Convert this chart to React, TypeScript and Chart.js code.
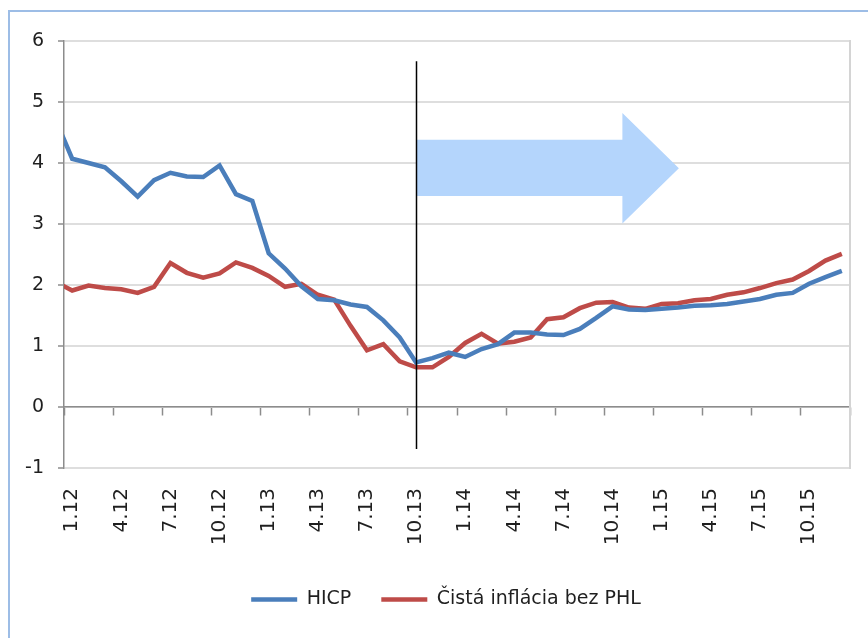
import React, { useEffect, useRef } from 'react';
import { Chart, registerables } from 'chart.js';

Chart.register(...registerables);

// Months (m.yy). The first month lies just left of the visible axis (line enters from the edge).
const MONTHS = [
  '12.11',
  '1.12', '2.12', '3.12', '4.12', '5.12', '6.12', '7.12', '8.12', '9.12', '10.12', '11.12', '12.12',
  '1.13', '2.13', '3.13', '4.13', '5.13', '6.13', '7.13', '8.13', '9.13', '10.13', '11.13', '12.13',
  '1.14', '2.14', '3.14', '4.14', '5.14', '6.14', '7.14', '8.14', '9.14', '10.14', '11.14', '12.14',
  '1.15', '2.15', '3.15', '4.15', '5.15', '6.15', '7.15', '8.15', '9.15', '10.15', '11.15', '12.15',
];
const FIRST_VISIBLE = '1.12';

const HICP = [
  4.7,
  4.07, 4.0, 3.93, 3.7, 3.45, 3.72, 3.84, 3.78, 3.77, 3.96, 3.49, 3.38,
  2.52, 2.27, 1.98, 1.77, 1.75, 1.68, 1.64, 1.42, 1.14, 0.73, 0.8, 0.89,
  0.82, 0.95, 1.03, 1.22, 1.22, 1.19, 1.18, 1.28, 1.46, 1.65, 1.6, 1.59,
  1.61, 1.63, 1.66, 1.67, 1.69, 1.73, 1.77, 1.84, 1.87, 2.02, 2.13, 2.23,
];
const CORE = [
  2.05,
  1.91, 1.99, 1.95, 1.93, 1.87, 1.97, 2.36, 2.2, 2.12, 2.19, 2.37, 2.28,
  2.15, 1.97, 2.02, 1.84, 1.76, 1.33, 0.93, 1.03, 0.75, 0.65, 0.65, 0.82,
  1.05, 1.2, 1.04, 1.07, 1.14, 1.44, 1.47, 1.62, 1.71, 1.72, 1.63, 1.61,
  1.69, 1.7, 1.75, 1.77, 1.84, 1.88, 1.95, 2.03, 2.09, 2.23, 2.4, 2.51,
];
const SERIES_NAMES = ['HICP', 'Čistá inflácia bez PHL'];

const Y_MIN = -1;
const Y_MAX = 6;

// Divider line and forecast arrow (in data units)
const DIVIDER_MONTH = '10.13';
const DIVIDER_RANGE = [-0.69, 5.67];
const ARROW_BODY = [3.46, 4.38];
const ARROW_HEAD = [3.01, 4.82];
const ARROW_BODY_MONTHS = 12.6;
const ARROW_TIP_MONTHS = 16.05;

const FONT = 'DejaVu Sans';
const TEXT = '#1f1f1f';
const AXIS = '#8c8c8c';
const GRID = '#dedede';
const BLUE = '#4a7ebb';
const RED = '#be4b48';
const ARROW = '#b4d5fc';

const overlayPlugin = {
  id: 'overlay',
  beforeDatasetsDraw(chart: any) {
    const { ctx } = chart;
    const x = chart.scales.x;
    const y = chart.scales.y;
    const i0 = MONTHS.indexOf(DIVIDER_MONTH);
    const xs = x.getPixelForValue(i0);
    const xb = x.getPixelForValue(i0 + ARROW_BODY_MONTHS);
    const xt = x.getPixelForValue(i0 + ARROW_TIP_MONTHS);
    const py = (v: number) => y.getPixelForValue(v);
    ctx.save();
    ctx.fillStyle = ARROW;
    ctx.beginPath();
    ctx.moveTo(xs, py(ARROW_BODY[1]));
    ctx.lineTo(xb, py(ARROW_BODY[1]));
    ctx.lineTo(xb, py(ARROW_HEAD[1]));
    ctx.lineTo(xt, py((ARROW_HEAD[0] + ARROW_HEAD[1]) / 2));
    ctx.lineTo(xb, py(ARROW_HEAD[0]));
    ctx.lineTo(xb, py(ARROW_BODY[0]));
    ctx.lineTo(xs, py(ARROW_BODY[0]));
    ctx.closePath();
    ctx.fill();
    ctx.restore();
  },
  afterDatasetsDraw(chart: any) {
    const { ctx } = chart;
    const x = chart.scales.x;
    const y = chart.scales.y;
    const xs = Math.round(x.getPixelForValue(MONTHS.indexOf(DIVIDER_MONTH))) + 0.5;
    ctx.save();
    ctx.strokeStyle = '#000';
    ctx.lineWidth = 1.5;
    ctx.beginPath();
    ctx.moveTo(xs, y.getPixelForValue(DIVIDER_RANGE[1]));
    ctx.lineTo(xs, y.getPixelForValue(DIVIDER_RANGE[0]));
    ctx.stroke();
    ctx.restore();
  },
};

export default function App() {
  const ref = useRef<HTMLCanvasElement | null>(null);

  useEffect(() => {
    if (!ref.current) return;
    Chart.defaults.font.family = FONT;
    const chart = new Chart(ref.current, {
      type: 'line',
      data: {
        labels: MONTHS,
        datasets: [
          {
            label: SERIES_NAMES[0],
            data: HICP,
            borderColor: BLUE,
            backgroundColor: BLUE,
            borderWidth: 4.5,
            pointRadius: 0,
            tension: 0,
            clip: 0,
          },
          {
            label: SERIES_NAMES[1],
            data: CORE,
            borderColor: RED,
            backgroundColor: RED,
            borderWidth: 4.5,
            pointRadius: 0,
            tension: 0,
            clip: 0,
          },
        ],
      },
      options: {
        responsive: false,
        animation: false,
        devicePixelRatio: 1,
        layout: { padding: { left: 14, right: 0, top: 29, bottom: 19 } },
        plugins: {
          tooltip: { enabled: false },
          legend: {
            position: 'bottom',
            labels: {
              usePointStyle: true,
              pointStyle: 'line',
              pointStyleWidth: 46,
              padding: 30,
              color: TEXT,
              font: { family: FONT, size: 19 },
            },
          },
        },
        scales: {
          x: {
            type: 'category',
            position: 'bottom',
            offset: true,
            min: FIRST_VISIBLE,
            grid: { display: false, drawTicks: false },
            border: { display: false },
            ticks: {
              autoSkip: false,
              maxRotation: 90,
              minRotation: 90,
              padding: 20,
              color: TEXT,
              font: { family: FONT, size: 20 },
              callback: function (this: any, v: any, i: number) {
                return i % 3 === 0 ? this.getLabelForValue(v) : '';
              },
            },
            afterFit: (s: any) => {
              s.height = 92;
              s.paddingLeft = 0;
              s.paddingRight = 0;
            },
          },
          x0: {
            type: 'category',
            position: { y: 0 } as any,
            offset: true,
            min: FIRST_VISIBLE,
            grid: {
              drawOnChartArea: false,
              drawTicks: true,
              tickLength: 8,
              tickWidth: 1.5,
              offset: true,
              tickColor: (c: any) =>
                c.index === undefined || c.index % 3 === 0 ? AXIS : 'rgba(0,0,0,0)',
            },
            border: { display: true, color: AXIS, width: 1.5 },
            ticks: { display: false, autoSkip: false },
            afterFit: (s: any) => {
              s.paddingLeft = 0;
              s.paddingRight = 0;
            },
          },
          y: {
            position: 'left',
            min: Y_MIN,
            max: Y_MAX,
            ticks: {
              stepSize: 1,
              padding: 14,
              color: TEXT,
              font: { family: FONT, size: 19 },
            },
            grid: {
              color: GRID,
              lineWidth: 2,
              tickColor: AXIS,
              tickLength: 6,
              tickWidth: 1.5,
            },
            border: { color: AXIS, width: 1.5 },
            afterFit: (s: any) => {
              s.width = 40;
            },
          },
          yr: {
            position: 'right',
            display: true,
            grid: { display: false, drawTicks: false },
            ticks: { display: false },
            border: { display: true, color: '#d4d4d4', width: 2 },
            afterFit: (s: any) => {
              s.width = 18;
            },
          },
        },
      } as any,
      plugins: [overlayPlugin],
    });
    return () => chart.destroy();
  }, []);

  return (
    <div
      style={{
        position: 'fixed',
        left: 8,
        top: 10,
        width: 900,
        height: 700,
        borderLeft: '2px solid #9dbde6',
        borderTop: '2px solid #9dbde6',
        background: '#fff',
      }}
    >
      <canvas ref={ref} width={858} height={626} style={{ display: 'block', width: 858, height: 626 }} />
    </div>
  );
}
